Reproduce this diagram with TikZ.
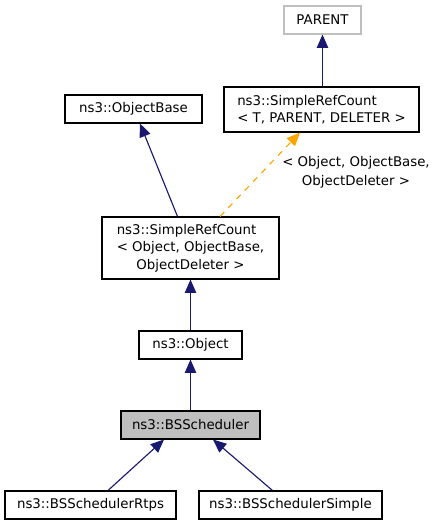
\documentclass[tikz,border=0pt]{standalone}
\usepackage{fontspec}
\setmainfont{DejaVu Sans}
\usetikzlibrary{arrows.meta,calc}
\definecolor{edgeblue}{HTML}{191970}
\definecolor{edgeorange}{HTML}{FFA500}
\definecolor{boxgray}{HTML}{BFBFBF}
\newlength{\firstlinelen}
\begin{document}
\begin{tikzpicture}[x=0.75pt,y=-0.75pt,
  box/.style={draw=black,line width=0.8pt,fill=white,inner sep=0pt,align=center,
    font=\fontsize{10pt}{13pt}\selectfont},
  inh/.style={draw=edgeblue,line width=0.85pt,-{Triangle[length=10pt,width=8.5pt]}},
  tmpl/.style={draw=edgeorange,line width=0.85pt,dash pattern=on 4.5pt off 4.5pt,
    -{Triangle[length=10pt,width=8.5pt,fill=edgeorange]}},
  lbl/.style={align=center,inner sep=0pt,font=\fontsize{10pt}{14pt}\selectfont}]
\useasboundingbox (0,0) rectangle (441,525);
\node[box,draw=boxgray,minimum width=57.75pt,minimum height=21pt] (parent) at (322.5,20) {PARENT};
\node[box,align=left,minimum width=146.25pt,minimum height=33.75pt] (srct) at (321.5,109.5) {ns3::SimpleRefCount\\< T, PARENT, DELETER >};
\node[box,minimum width=102.75pt,minimum height=21pt] (objbase) at (133.5,109) {ns3::ObjectBase};
\node[box,minimum width=132.75pt,minimum height=46.5pt] (srco) at (190.5,248) {\settowidth{\firstlinelen}{< Object, ObjectBase,}\makebox[\firstlinelen][l]{ns3::SimpleRefCount}\\< Object, ObjectBase,\\ObjectDeleter >};
\node[box,minimum width=77.25pt,minimum height=21pt] (object) at (190.5,345) {ns3::Object};
\node[box,fill=boxgray,minimum width=104.25pt,minimum height=21pt] (bss) at (190.5,425) {ns3::BSScheduler};
\node[box,minimum width=128.25pt,minimum height=21pt] (rtps) at (90.5,505) {ns3::BSSchedulerRtps};
\node[box,minimum width=137.25pt,minimum height=21pt] (simple) at (290.5,505) {ns3::BSSchedulerSimple};
\node[lbl] (tlabel) at (356,172.5) {< Object, ObjectBase,\\ObjectDeleter >};
\draw[inh] ($(srct.north)+(1,0)$) -- (parent.south);
\draw[tmpl] ($(srco.north)+(29.5,0)$) -- ($(srct.south)+(-21.5,0)$);
\draw[inh] ($(srco.north)+(-13,0)$) -- ($(objbase.south)+(6.5,0)$);
\draw[inh] (object.north) -- (srco.south);
\draw[inh] (bss.north) -- (object.south);
\draw[inh] ($(rtps.north)+(17.5,0)$) -- ($(bss.south)+(-26.5,0)$);
\draw[inh] ($(simple.north)+(-18,0)$) -- ($(bss.south)+(22.5,0)$);
\end{tikzpicture}
\end{document}
